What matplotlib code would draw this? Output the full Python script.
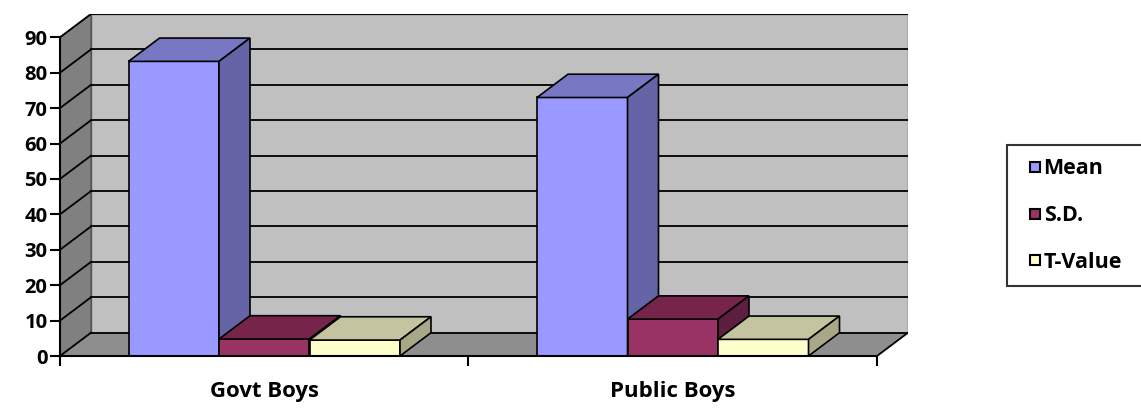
import matplotlib.pyplot as plt
from matplotlib.patches import Polygon
from matplotlib.lines import Line2D

plt.rcParams['font.family'] = ['Open Sans', 'DejaVu Sans']
plt.rcParams['font.weight'] = 'bold'

categories = ['Govt Boys', 'Public Boys']
series = ['Mean', 'S.D.', 'T-Value']
mean_vals = [83.2, 73.0]
sd_vals = [4.8, 10.4]
tval_vals = [4.5, 4.7]
yticks = list(range(0, 100, 10))

# front / top / side shades per series
colors = {
    'Mean': ('#9999FF', '#7777C3', '#6464A6'),
    'S.D.': ('#993366', '#77244A', '#5E1E3E'),
    'T-Value': ('#FFFFCC', '#C4C4A0', '#A8A888'),
}

W, H = 1141, 409
fig = plt.figure(figsize=(W / 100, H / 100), dpi=100)

# 3d depth offset (in data units)
DX = 31 / 408.5
DY = 23.3 / 3.541
YMAX = 90

ax = fig.add_axes([60 / W, 53 / H, 848 / W, 342 / H])
ax.set_xlim(0, len(categories) + DX)
ax.set_ylim(0, YMAX + DY)
n = len(categories)

# walls and floor
ax.add_patch(Polygon([(DX, DY), (n + DX, DY), (n + DX, YMAX + DY), (DX, YMAX + DY)],
                     closed=True, fc='#C0C0C0', ec='#555555', lw=1, zorder=1))
ax.add_patch(Polygon([(0, 0), (DX, DY), (DX, YMAX + DY), (0, YMAX)],
                     closed=True, fc='#808080', ec='#555555', lw=1, zorder=1))
ax.add_patch(Polygon([(0, 0), (n, 0), (n + DX, DY), (DX, DY)],
                     closed=True, fc='#8E8E8E', ec='none', zorder=1))

for v in yticks:
    ax.plot([DX, n + DX], [v + DY, v + DY], color='black', lw=1.3, zorder=2)
    ax.plot([0, DX], [v, v + DY], color='black', lw=1.3, zorder=2)
ax.plot([n, n + DX], [0, DY], color='black', lw=1.3, zorder=2)

# bars
bw = 90.5 / 408.5
vals = {'Mean': mean_vals, 'S.D.': sd_vals, 'T-Value': tval_vals}
for i in range(n):
    x0 = i + 0.5 - 1.5 * bw
    for j, s in enumerate(series):
        v = vals[s][i]
        front, top, side = colors[s]
        a = x0 + j * bw
        b = a + bw
        z = 3 + j
        ax.add_patch(Polygon([(a, 0), (b, 0), (b, v), (a, v)], closed=True,
                             fc=front, ec='black', lw=1.2, zorder=z))
        ax.add_patch(Polygon([(a, v), (b, v), (b + DX, v + DY), (a + DX, v + DY)],
                             closed=True, fc=top, ec='black', lw=1.2, zorder=z))
        ax.add_patch(Polygon([(b, 0), (b + DX, DY), (b + DX, v + DY), (b, v)],
                             closed=True, fc=side, ec='black', lw=1.2, zorder=z))

# axes
for sp in ['top', 'right']:
    ax.spines[sp].set_visible(False)
ax.spines['left'].set_bounds(0, YMAX)
ax.spines['bottom'].set_bounds(0, n)
ax.spines['left'].set_linewidth(1.5)
ax.spines['bottom'].set_linewidth(1.5)
ax.spines['left'].set_zorder(10)
ax.spines['bottom'].set_zorder(10)

ax.set_yticks(yticks)
ax.set_yticklabels([str(t) for t in yticks], fontsize=14.5, fontweight='bold')
ax.tick_params(axis='y', length=7, width=1.5, pad=2)
ax.set_xticks(range(n + 1))
ax.set_xticklabels([])
ax.tick_params(axis='x', which='major', length=7, width=1.5)
ax.set_xticks([i + 0.5 for i in range(n)], minor=True)
ax.set_xticklabels(categories, minor=True, fontsize=16, fontweight='bold')
ax.tick_params(axis='x', which='minor', length=0, pad=18)

handles = [Line2D([], [], marker='s', linestyle='none', markersize=7.5,
                  markerfacecolor=colors[s][0], markeredgecolor='black',
                  markeredgewidth=1.5) for s in series]
leg = fig.legend(handles, series, loc='upper left',
                 bbox_to_anchor=(1007 / W, 1 - 145 / H - 0.01, 160 / W, 0.01),
                 mode='expand', frameon=True, fancybox=False, borderaxespad=0,
                 borderpad=0.62, labelspacing=1.2, handlelength=1.4,
                 handletextpad=-0.32, prop={'weight': 'bold', 'size': 15.5})
leg.get_frame().set_edgecolor('black')
leg.get_frame().set_linewidth(1.5)

fig.savefig('out.png', dpi=100)
